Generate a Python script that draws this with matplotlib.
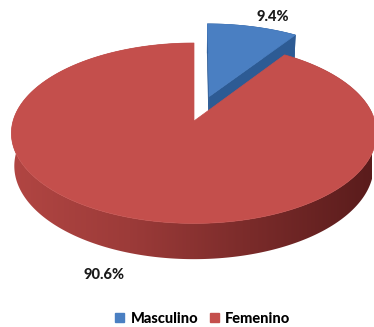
import numpy as np
import matplotlib
matplotlib.use("Agg")
import matplotlib.pyplot as plt
from matplotlib.patches import Polygon, Patch
from matplotlib.colors import LinearSegmentedColormap

labels = ["Masculino", "Femenino"]
values = [9.4, 90.6]
colors_top = ["#4a7fc2", "#c44f4c"]
colors_side = ["#2d5b94", None]
explode = [0.3, 0.0]

W, H = 374, 327
fig = plt.figure(figsize=(W / 100, H / 100), dpi=100)
ax = fig.add_axes([0, 0, 1, 1])
ax.set_xlim(0, W)
ax.set_ylim(H, 0)
ax.axis("off")

# perspective parameters
f, D = 1167.0, 6.45
phi = np.deg2rad(29.3)
sp, cp = np.sin(phi), np.cos(phi)
cx, cy = 194.0, 121.0
thick = 0.21

wall_cmap = LinearSegmentedColormap.from_list(
    "wall", ["#b24643", "#9c3b39", "#7a2b2a", "#5a1c1c"])


def proj(u, v, h):
    u = np.asarray(u, float); v = np.asarray(v, float); h = np.asarray(h, float)
    Y = -v * sp + h * cp
    Zc = D - (v * cp + h * sp)
    return np.column_stack([cx + f * u / Zc, cy - f * Y / Zc])


def rim(t0, t1, h, off, n=200):
    t = np.deg2rad(np.linspace(t0, t1, n))
    return proj(off[0] + np.sin(t), off[1] - np.cos(t), np.full(n, h))


total = sum(values)
angles = np.cumsum([0] + [v / total * 360 for v in values])
wedges = []
for i, val in enumerate(values):
    t0, t1 = angles[i], angles[i + 1]
    tm = np.deg2rad((t0 + t1) / 2)
    off = (explode[i] * np.sin(tm), -explode[i] * np.cos(tm))
    wedges.append((t0, t1, off))

cam = np.array([0, D * cp, D * sp])
for i in range(len(values)):
    t0, t1, off = wedges[i]
    base = colors_top[i]
    # outer wall
    top = rim(t0, t1, 0, off, 400)
    bot = rim(t0, t1, -thick, off, 400)
    wall = np.vstack([top, bot[::-1]])
    if colors_side[i] is None:
        patch = Polygon(wall, closed=True, fc="none", ec="none")
        ax.add_patch(patch)
        grad = np.linspace(0, 1, 256).reshape(1, -1)
        im = ax.imshow(grad, cmap=wall_cmap, extent=(8, 372, 0, H),
                       aspect="auto", interpolation="bilinear", zorder=1)
        im.set_clip_path(patch)
    else:
        ax.add_patch(Polygon(wall, closed=True, fc=colors_side[i],
                             ec=colors_side[i], lw=0.5, zorder=1))
    # radial faces (visible ones)
    for t, sgn in ((t0, -1), (t1, 1)):
        tr = np.deg2rad(t)
        nrm = np.array([sgn * np.cos(tr), sgn * np.sin(tr)])
        p = np.array([off[0] + 0.5 * np.sin(tr), off[1] - 0.5 * np.cos(tr), 0])
        d = cam - p
        if nrm[0] * d[0] + nrm[1] * d[1] > 0:
            pts = proj([off[0], off[0] + np.sin(tr), off[0] + np.sin(tr), off[0]],
                       [off[1], off[1] - np.cos(tr), off[1] - np.cos(tr), off[1]],
                       [0, 0, -thick, -thick])
            c = colors_side[i] or "#7a2b2a"
            ax.add_patch(Polygon(pts, closed=True, fc=c, ec=c, lw=0.5, zorder=1))
    # top face
    arc = rim(t0, t1, 0, off, 400)
    apex = proj([off[0]], [off[1]], [0])
    poly = np.vstack([apex, arc]) if t1 - t0 < 359.9 else arc
    ax.add_patch(Polygon(poly, closed=True, fc=base, ec=base, lw=0.5, zorder=2))

# labels
fam = ["Lato", "DejaVu Sans"]
txt_kw = dict(fontsize=10.5, fontweight="black", family=fam,
              color="#1a1a1a", ha="center", va="center", zorder=5)
ax.text(273, 17, f"{values[0]}%", **txt_kw)
ax.text(104, 275, f"{values[1]}%", **txt_kw)

handles = [Patch(fc=c, ec=c) for c in ["#4a7fc2", "#c44f4c"]]
ax.legend(handles, labels, loc="center", bbox_to_anchor=(203 / W, 1 - 319 / H),
          ncol=2, frameon=False, handlelength=0.6, handleheight=0.6,
          handletextpad=0.45, columnspacing=0.8, borderpad=0,
          prop={"family": fam, "weight": "black", "size": 10.5})

fig.savefig("out.png", dpi=100)
